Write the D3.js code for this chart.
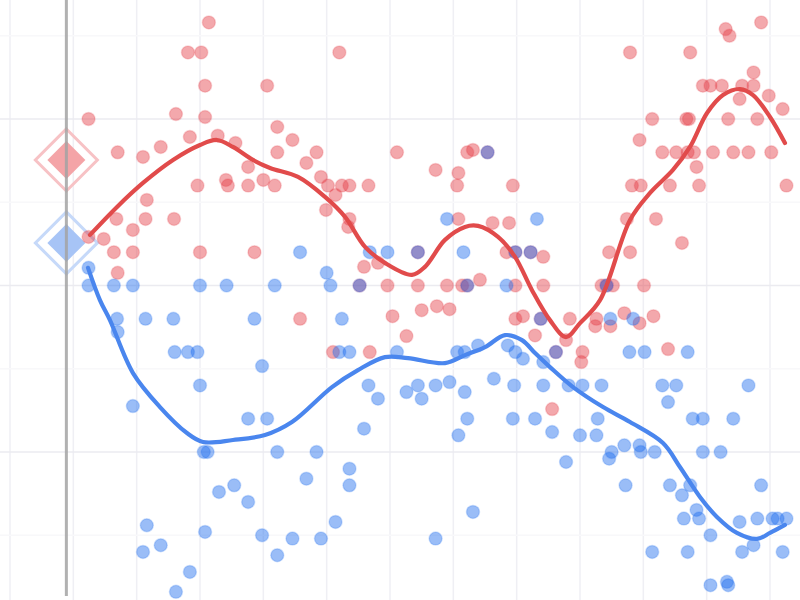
<!DOCTYPE html>
<html><head><meta charset="utf-8">
<script src="https://cdn.jsdelivr.net/npm/d3@7/dist/d3.min.js"></script>
<style>html,body{margin:0;padding:0;background:#fff;overflow:hidden}</style>
</head><body>
<svg id="chart" width="800" height="600"></svg>
<script>
// ---- data ----
const redX = [15.7,14.05,15.1,20.3,15.4,6.2,13.1,15.4,14.2,16.4,17.8,8.5,10.5,11.9,18.8,14.8,17.05,17.2,18.8,20,
  10.8,8.4,10.7,12.95,9.7,6.2,7.4,8.2,9.7,15,19.3,8.5,26,21.1,22.3,21.1,24.2,23.4,30.55,36.1,
  36.55,20.9,24.55,25.1,26.2,26.8,28.3,25.7,24.95,33.6,35.4,35.3,39.7,26.8,26.7,35.4,38.1,39.4,39.2,27.95,
  29.05,37.1,29.8,32.2,34.5,35.7,39.9,22.9,30.2,32.5,33.7,34.7,31.3,39.9,40.5,41.45,25.5,28.4,
  59.3,56.5,56.8,48.95,53.7,58.7,54.7,55.3,56.2,57.8,58.7,57.6,59.9,61,50.7,53.4,53.6,56.7,59,49.7,
  51.5,52.6,53.5,54,55.5,57.1,58.3,60.1,54.2,49.1,49.8,52.1,54.4,61.3,48.7,51,53.05,47.3,48.95,42.1,
  42.1,46.7,47.6,50.05,44.2,46.3,46.2,47.4,48.5,49.7,50.8,43.9,51.95,45.2,45.1,42.8,
  37.7,32.2,27.6,36.1,41.1,39.9,47.1,41.9,43.1];
const redY = [17.9,17,17,16,16,15,15.15,15.06,14.46,14.5,14.28,14,13.86,14.16,13.56,13,13.17,13,13,13.17,
  12.57,12,12,12,11.67,11.46,11.4,11,11,11,11,10.38,17,14.76,14.37,14,14,13.68,14,14,
  14.07,13,13.26,13,13,13,13,12.72,12.27,13.47,13.38,13,13,12,11.76,12,11.88,11.88,11,10.56,
  10.68,10.17,10,10,10,10,10,9,9.08,9.26,9.38,9.29,8.48,9,9.08,8.5,8,8,
  17.9,17.7,17.5,17,17,16.4,16,16,16,16,16,15.6,15.7,15.3,15,15,15,15,15,14.37,
  14,14,14,14,14,14,14,14,13.56,13,13,13,13,13,12,12,11.28,11,11,10.86,
  10,10,10,10,9,9,8.78,8.78,9.17,8.87,9.08,8.36,8.09,8,7.7,6.29,
  14,11,10,10,11,11,10,9,8];

const blueX = [6.2,6.2,8.2,9.7,15,17.1,8.45,10.7,12.9,19.3,8.5,13,14.05,14.8,19.9,15,9.7,18.8,20.3,15.3,
  15.6,16.5,17.7,18.8,10.8,15.4,19.9,10.5,11.9,14.2,13.1,
  22.9,25,20.9,25.3,28.4,29.8,34.5,35.8,39.2,41.6,26.2,26,26.8,30.55,35.3,35.9,36.95,39.3,39.9,
  40.5,28.3,29.05,31.3,32.2,32.5,33.6,34.7,35.9,38.2,39.8,27.95,36.1,35.4,39.7,41.45,21.1,24.2,26.8,26.8,
  23.4,36.55,25.7,22.3,24.55,33.6,21.1,
  47.4,49.2,48.9,50.1,53.5,42.1,42.1,44.1,45.2,46.7,51.5,52.6,51.95,58.3,42.8,45,46.3,46.4,53.9,54.7,
  57.1,47.5,47.3,48.5,49.7,49.8,50.9,54.7,56.1,43.9,48.6,52.1,53.05,53.7,59.3,53.2,54.2,54.4,57.6,59,
  60.2,60.6,61.3,55.3,58.7,50.7,53.5,57.8,61,55.3,56.6,56.7,
  37.7,32.2,27.6,36.1,41.1,39.9,47.1,41.9,43.1];
const blueY = [10.53,10,10,10,10,10,9,9,9,9,8.6,8,8,8,7.58,7,6.38,6,6,5,
  5,3.8,4,3.5,2.8,2.6,2.5,2,2.2,1.4,0.8,
  11,10.38,10,10,11,11,12,11,10,12,9,8,8,8,8,8,8.2,8.2,8,
  7.8,7,6.6,6.8,7,6.6,7,7.1,6.8,7.2,7,5.7,6,5.5,6,6,5,5,4.5,4,
  4.2,3.2,2.9,2.4,2.4,2.4,1.9,
  9,9,8,8,8,7.7,7,7,7,7,7,7,6.5,7,5.6,5.5,5.5,6,6,6,
  6,5,4.8,5.2,5.2,5,5,5,5,4.7,4,4,3.7,4,4,3,3.26,3,2.9,3,
  3,3,3,2.5,2.2,2,2,2,2,1,1.1,1,
  14,11,10,10,11,11,10,9,8];

const redTrendX = [6.32,8.45,10.5,12.87,15,16.34,17.6,19.18,20.53,22.74,24.87,26.45,28.03,29.6,31.74,32.76,34.34,35.92,36.95,38.53,
  39.87,41.21,42.63,43.89,45,46.58,48.95,50.53,52.34,53.68,55.03,56.29,57.63,58.66,60,61.18];
const redTrendY = [11.52,12.36,13.08,13.77,14.22,14.37,14.16,13.77,13.53,13.26,12.66,12.06,11.16,10.68,10.32,10.56,11.37,11.76,11.79,11.46,
  10.86,9.86,8.96,8.45,8.87,9.56,11.97,12.78,13.47,14.16,15.18,15.72,15.9,15.72,15.06,14.28];

const blueTrendX = [6.16,7.1,7.89,9.71,11.84,13.97,15.24,17.6,20.13,22.26,25.42,27.47,29.6,31.42,34.34,35.92,37.5,39.08,40.42,41.45,
  42.63,44.45,46.82,48.95,51.55,52.89,54.47,55.81,57.39,58.97,60,61.18];
const blueTrendY = [10.53,9.56,8.96,7.37,6.35,5.57,5.3,5.36,5.51,5.9,6.95,7.46,7.85,7.82,7.67,7.91,8.15,8.51,8.36,7.97,
  7.55,6.95,6.35,5.9,5.27,4.55,3.65,3.05,2.57,2.39,2.57,2.81];

const markerX = 4.45;
const markerValues = [13.77, 11.28];   // red, blue
const seriesNames = ["red", "blue"];

const gridXTicks = d3.range(0, 61, 5);
const gridYTicks = d3.range(2.5, 18, 2.5);

// ---- drawing ----
const svg = d3.select("#chart");
const x = d3.scaleLinear().domain([0, 60]).range([10, 770]);
const y = d3.scaleLinear().domain([5, 15]).range([452, 119]);

const style = {
  red:  {dot: "rgb(228,62,72)",  line: "#e14b4b", fill: "#f4a4a7", ring: "#f7c2c5"},
  blue: {dot: "rgb(30,108,238)", line: "#4a86ee", fill: "#a7c4f6", ring: "#c6d9f9"}
};

const grid = svg.append("g");
grid.selectAll("line.v").data(gridXTicks).enter().append("line")
  .attr("x1", d => x(d)).attr("x2", d => x(d)).attr("y1", 0).attr("y2", 600)
  .attr("stroke", "#efeff4").attr("stroke-width", 1.5);
grid.selectAll("line.h").data(gridYTicks).enter().append("line")
  .attr("x1", 0).attr("x2", 800).attr("y1", d => y(d)).attr("y2", d => y(d))
  .attr("stroke", d => (d % 5 === 0) ? "#ebebf0" : "#f8f8fa").attr("stroke-width", 1.5);

// markers (diamonds)
const mk = svg.append("g");
markerValues.forEach((v, i) => {
  const s = style[seriesNames[i]];
  const cx = x(markerX), cy = y(v);
  const d = r => `M${cx},${cy - r}L${cx + r},${cy}L${cx},${cy + r}L${cx - r},${cy}Z`;
  mk.append("path").attr("d", d(31)).attr("fill", "none").attr("stroke", s.ring).attr("stroke-width", 3);
  mk.append("path").attr("d", d(19)).attr("fill", s.fill);
});

// vertical marker line
svg.append("line").attr("x1", x(markerX)).attr("x2", x(markerX)).attr("y1", 0).attr("y2", 596)
  .attr("stroke", "#a3a3a3").attr("stroke-width", 3).attr("stroke-opacity", 0.85);

function dots(xs, ys, s) {
  svg.append("g").selectAll("circle").data(xs.map((d, i) => [d, ys[i]])).enter().append("circle")
    .attr("cx", d => x(d[0])).attr("cy", d => y(d[1])).attr("r", 6.5)
    .attr("fill", s.dot).attr("fill-opacity", 0.45)
    .attr("stroke", s.dot).attr("stroke-opacity", 0.2).attr("stroke-width", 1.5);
}
dots(redX, redY, style.red);
dots(blueX, blueY, style.blue);

const lineGen = d3.line().x(d => x(d[0])).y(d => y(d[1])).curve(d3.curveCatmullRom.alpha(0.5));
svg.append("path").datum(redTrendX.map((d, i) => [d, redTrendY[i]]))
  .attr("d", lineGen).attr("fill", "none").attr("stroke", style.red.line)
  .attr("stroke-width", 4.2).attr("stroke-linecap", "round").attr("stroke-linejoin", "round");
svg.append("path").datum(blueTrendX.map((d, i) => [d, blueTrendY[i]]))
  .attr("d", lineGen).attr("fill", "none").attr("stroke", style.blue.line)
  .attr("stroke-width", 4.2).attr("stroke-linecap", "round").attr("stroke-linejoin", "round");
</script>
</body></html>
